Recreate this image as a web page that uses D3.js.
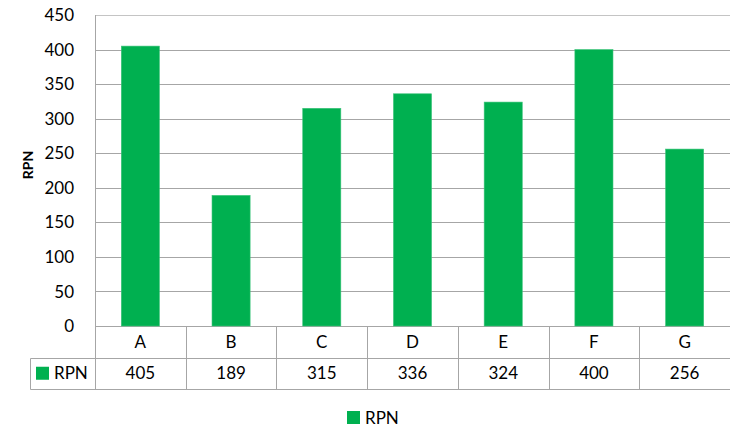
<!DOCTYPE html>
<html>
<head>
<meta charset="utf-8">
<script src="https://cdn.jsdelivr.net/npm/d3@7"></script>
<style>
  html, body { margin: 0; padding: 0; background: #fff; }
  svg { display: block; }
  text { font-family: Lato, "Open Sans", sans-serif; fill: #000; }
</style>
</head>
<body>
<svg id="chart" width="730" height="431"></svg>
<script>
// RPN per item
const categories = ["A", "B", "C", "D", "E", "F", "G"];
const rpnValues = [405, 189, 315, 336, 324, 400, 256];
const yTicks = [0, 50, 100, 150, 200, 250, 300, 350, 400, 450];
const seriesName = "RPN";

const W = 730, H = 431;
const plot = { left: 95, right: 730, top: 15, bottom: 326 };
const rowH = 31.5;
const barColor = "#00b050";
const gridColor = "#a6a6a6";
const fs = "17px";

const svg = d3.select("#chart");

const x = d3.scaleBand()
  .domain(categories)
  .range([plot.left, plot.right])
  .paddingInner(0.58)
  .paddingOuter(0.29);

const xCell = d3.scaleBand()
  .domain(categories)
  .range([plot.left, plot.right]);

const y = d3.scaleLinear()
  .domain([0, 450])
  .range([plot.bottom, plot.top]);

// horizontal gridlines
svg.append("g")
  .selectAll("line")
  .data(yTicks)
  .join("line")
  .attr("x1", plot.left)
  .attr("x2", plot.right)
  .attr("y1", d => Math.round(y(d)) + 0.5)
  .attr("y2", d => Math.round(y(d)) + 0.5)
  .attr("stroke", (d, i) => i === yTicks.length - 1 ? "#c4c4c4" : gridColor)
  .attr("stroke-width", 1);

// y axis line
svg.append("line")
  .attr("x1", plot.left + 0.5).attr("x2", plot.left + 0.5)
  .attr("y1", plot.top).attr("y2", plot.bottom)
  .attr("stroke", gridColor);

// y tick labels
svg.append("g")
  .selectAll("text")
  .data(yTicks)
  .join("text")
  .attr("x", 74)
  .attr("y", d => y(d))
  .attr("dy", "0.36em")
  .attr("text-anchor", "end")
  .style("font-size", fs)
  .text(d => d);

// y axis title
svg.append("text")
  .attr("transform", "translate(33,165) rotate(-90)")
  .attr("text-anchor", "middle")
  .style("font-size", "14px")
  .style("font-weight", "bold")
  .text(seriesName);

// bars
svg.append("g")
  .selectAll("rect")
  .data(categories.map((c, i) => ({ c, v: rpnValues[i] })))
  .join("rect")
  .attr("x", d => x(d.c))
  .attr("width", x.bandwidth())
  .attr("y", d => y(d.v))
  .attr("height", d => y(0) - y(d.v))
  .attr("fill", barColor)
  .attr("stroke", "#3cc47a")
  .attr("stroke-width", 0.6);

// data table
const tableTop = plot.bottom;
const tableLeft = 30.5;
const table = svg.append("g")
  .attr("stroke", gridColor)
  .attr("stroke-width", 1)
  .attr("fill", "none");

// row lines
table.append("line")
  .attr("x1", tableLeft).attr("x2", plot.right)
  .attr("y1", Math.round(tableTop + rowH) + 0.5).attr("y2", Math.round(tableTop + rowH) + 0.5);
table.append("line")
  .attr("x1", tableLeft).attr("x2", plot.right)
  .attr("y1", Math.round(tableTop + 2 * rowH) + 0.5).attr("y2", Math.round(tableTop + 2 * rowH) + 0.5);
// left borders
table.append("line")
  .attr("x1", tableLeft).attr("x2", tableLeft)
  .attr("y1", Math.round(tableTop + rowH) + 0.5).attr("y2", Math.round(tableTop + 2 * rowH) + 0.5);
table.append("line")
  .attr("x1", plot.left + 0.5).attr("x2", plot.left + 0.5)
  .attr("y1", tableTop).attr("y2", Math.round(tableTop + 2 * rowH) + 0.5);
// category separators
table.selectAll("line.sep")
  .data(categories.slice(1))
  .join("line")
  .attr("class", "sep")
  .attr("x1", d => Math.round(xCell(d)) + 0.5)
  .attr("x2", d => Math.round(xCell(d)) + 0.5)
  .attr("y1", tableTop)
  .attr("y2", Math.round(tableTop + 2 * rowH) + 0.5);

// category labels
svg.append("g")
  .selectAll("text")
  .data(categories)
  .join("text")
  .attr("x", d => xCell(d) + xCell.bandwidth() / 2)
  .attr("y", tableTop + rowH / 2)
  .attr("dy", "0.36em")
  .attr("text-anchor", "middle")
  .style("font-size", fs)
  .text(d => d);

// value row
svg.append("g")
  .selectAll("text")
  .data(categories.map((c, i) => ({ c, v: rpnValues[i] })))
  .join("text")
  .attr("x", d => xCell(d.c) + xCell.bandwidth() / 2)
  .attr("y", tableTop + rowH * 1.5)
  .attr("dy", "0.36em")
  .attr("text-anchor", "middle")
  .style("font-size", fs)
  .text(d => d.v);

// row header with legend key
svg.append("rect")
  .attr("x", 36).attr("y", tableTop + rowH * 1.5 - 6.5)
  .attr("width", 13).attr("height", 13)
  .attr("fill", barColor);
svg.append("text")
  .attr("x", 54)
  .attr("y", tableTop + rowH * 1.5)
  .attr("dy", "0.36em")
  .style("font-size", fs)
  .text(seriesName);

// bottom legend
svg.append("rect")
  .attr("x", 347).attr("y", 411)
  .attr("width", 13).attr("height", 13)
  .attr("fill", barColor);
svg.append("text")
  .attr("x", 365)
  .attr("y", 417.5)
  .attr("dy", "0.36em")
  .style("font-size", fs)
  .text(seriesName);
</script>
</body>
</html>
